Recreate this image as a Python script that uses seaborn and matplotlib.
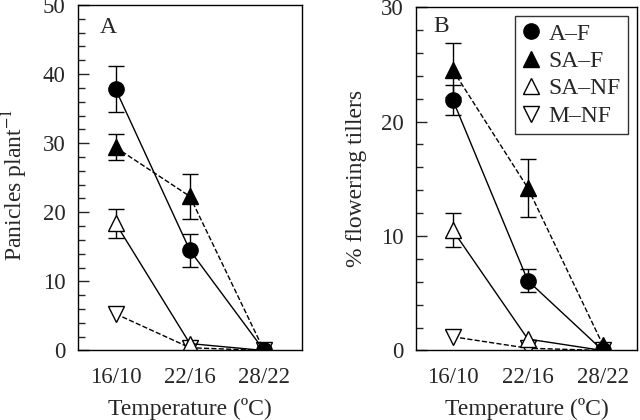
import matplotlib
matplotlib.use("Agg")
import matplotlib.pyplot as plt
import seaborn as sns
import numpy as np
import pandas as pd
from matplotlib.ticker import MultipleLocator
from matplotlib.lines import Line2D

categories = ["16/10", "22/16", "28/22"]
series = ["A–F", "SA–F", "SA–NF", "M–NF"]

# Panel A: panicles per plant
a_AF = [37.8, 14.5, 0.0]
a_SAF = [29.4, 22.3, 0.0]
a_SANF = [18.4, 1.0, 0.0]
a_MNF = [5.3, 0.4, 0.0]
a_AF_err = [3.3, 2.4, 0.0]
a_SAF_err = [1.9, 3.3, 0.0]
a_SANF_err = [2.1, 0.0, 0.0]
a_MNF_err = [0.0, 0.0, 0.0]

# Panel B: % flowering tillers
b_AF = [21.9, 6.1, 0.0]
b_SAF = [24.5, 14.2, 0.5]
b_SANF = [10.5, 1.0, 0.0]
b_MNF = [1.2, 0.2, 0.0]
b_AF_err = [1.3, 1.0, 0.0]
b_SAF_err = [2.4, 2.5, 0.0]
b_SANF_err = [1.5, 0.0, 0.0]
b_MNF_err = [0.0, 0.0, 0.0]

sns.set_theme(style="ticks")
plt.rcParams["font.family"] = ["Liberation Serif", "DejaVu Serif"]
plt.rcParams["mathtext.fontset"] = "stix"

styles = {
    "A–F": dict(marker="o", mfc="black", ls="-", z=6),
    "SA–F": dict(marker="^", mfc="black", ls="--", z=5),
    "SA–NF": dict(marker="^", mfc="white", ls="-", z=4),
    "M–NF": dict(marker="v", mfc="white", ls="--", z=3),
}

FS = 17
TFS = 16.5

fig = plt.figure(figsize=(6.4, 4.2), dpi=100)
axA = fig.add_axes([0.1223, 0.1655, 0.3491, 0.8226])
axB = fig.add_axes([0.650, 0.1655, 0.3455, 0.8178])

def draw(ax, vals, errs, ymax, xlim, ylabel, letter, lpos, ylab_xy):
    rows = []
    for s, v, e in zip(series, vals, errs):
        for i, c in enumerate(categories):
            rows.append(dict(series=s, pos=i, val=v[i], err=e[i]))
    df = pd.DataFrame(rows)
    for s in series[::-1]:
        st = styles[s]
        d = df[df.series == s]
        sns.lineplot(data=d, x="pos", y="val", ax=ax, color="black",
                     linestyle=st["ls"], linewidth=1.0, legend=False,
                     marker=st["marker"], markersize=11,
                     markerfacecolor=st["mfc"], markeredgecolor="black",
                     markeredgewidth=1.0, zorder=st["z"])
        de = d[d.err > 0]
        ax.errorbar(de.pos, de.val, yerr=de.err, fmt="none", ecolor="black",
                    elinewidth=1.0, capsize=5.5, capthick=1.0, zorder=2)
    ax.set_xlim(*xlim)
    ax.set_ylim(0, ymax)
    ax.set_xticks(range(len(categories)))
    ax.set_xticklabels(categories, fontsize=TFS)
    ax.yaxis.set_major_locator(MultipleLocator(10))
    ax.yaxis.set_minor_locator(MultipleLocator(2))
    ax.tick_params(axis="y", which="major", direction="in", length=8,
                   width=1, labelsize=TFS, pad=9)
    ax.tick_params(axis="y", which="minor", direction="in", length=5, width=1)
    ax.tick_params(axis="x", length=0, labelsize=TFS, pad=12)
    for sp in ax.spines.values():
        sp.set_visible(True)
        sp.set_linewidth(1.0)
        sp.set_color("black")
        sp.set_zorder(10)
    ax.set_xlabel("Temperature (ºC)", fontsize=FS, labelpad=7)
    ax.set_ylabel(ylabel, fontsize=FS)
    ax.yaxis.set_label_coords(*ylab_xy)
    ax.text(lpos[0], lpos[1], letter, transform=ax.transAxes, fontsize=FS,
            ha="center", va="center")
    ax.grid(False)

draw(axA, [a_AF, a_SAF, a_SANF, a_MNF],
     [a_AF_err, a_SAF_err, a_SANF_err, a_MNF_err], 50, (-0.504, 2.507),
     "Panicles plant$^{-1}$", "A", (0.136, 0.936), (-0.215, 0.48))
draw(axB, [b_AF, b_SAF, b_SANF, b_MNF],
     [b_AF_err, b_SAF_err, b_SANF_err, b_MNF_err], 30, (-0.49, 2.457),
     "% flowering tillers", "B", (0.116, 0.943), (-0.222, 0.5))

handles = [Line2D([], [], linestyle="none", marker=styles[s]["marker"],
                  markersize=11, markerfacecolor=styles[s]["mfc"],
                  markeredgecolor="black", markeredgewidth=1.0)
           for s in series]
leg = axB.legend(handles, series, loc="upper right", fontsize=FS,
                 frameon=True, fancybox=False, edgecolor="black",
                 handlelength=0.8, handletextpad=0.36, borderpad=0.28,
                 labelspacing=0.25, borderaxespad=0.4)
leg.get_frame().set_linewidth(1.0)
leg.set_zorder(20)

fig.savefig("out.png", dpi=100)
